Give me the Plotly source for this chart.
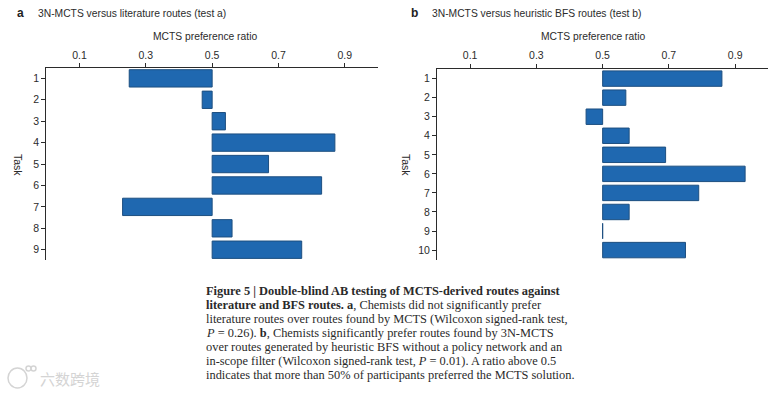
import plotly.graph_objects as go

tasks_a = [1, 2, 3, 4, 5, 6, 7, 8, 9]
ratio_a = [0.25, 0.47, 0.54, 0.87, 0.67, 0.83, 0.23, 0.56, 0.77]
tasks_b = [1, 2, 3, 4, 5, 6, 7, 8, 9, 10]
ratio_b = [0.86, 0.57, 0.45, 0.58, 0.69, 0.93, 0.79, 0.58, 0.50, 0.75]
x_ticks = [0.1, 0.3, 0.5, 0.7, 0.9]
BASE = 0.5

W, H = 780, 393
SANS = "Liberation Sans"
SERIF = "Liberation Serif"
INK = "#2b2b2b"
BAR = "#1f68b0"
EDGE = "#1d4f80"

fig = go.Figure()


def bars(tasks, ratio, xa, ya):
    fig.add_trace(go.Bar(
        y=tasks, x=[r - BASE for r in ratio], base=BASE, orientation="h",
        width=0.81, xaxis=xa, yaxis=ya, showlegend=False,
        marker=dict(color=BAR, line=dict(color=EDGE, width=1)),
    ))


bars(tasks_a, ratio_a, "x", "y")
bars(tasks_b, ratio_b, "x2", "y2")


def xaxis(x0, x1, anchor):
    return dict(domain=[x0 / W, x1 / W], range=[0, 1], side="top", anchor=anchor,
                tickmode="array", tickvals=x_ticks, ticktext=[f"{t:.1f}" for t in x_ticks],
                ticks="outside", ticklen=4, tickwidth=1, tickcolor=INK,
                showline=True, linecolor=INK, linewidth=1, showgrid=False, zeroline=False,
                tickfont=dict(family=SANS, size=10.5, color=INK))


def yaxis(top, bottom, rng, tasks, anchor):
    return dict(domain=[1 - bottom / H, 1 - top / H], range=rng, anchor=anchor,
                tickmode="array", tickvals=tasks, ticktext=[str(t) for t in tasks],
                ticks="outside", ticklen=4, tickwidth=1, tickcolor=INK,
                showline=True, linecolor=INK, linewidth=1, showgrid=False, zeroline=False,
                tickfont=dict(family=SANS, size=10.5, color=INK))


def label(x, y, text, size=10.3, family=SANS, anchor="left", angle=0, color=INK):
    return dict(x=x / W, y=1 - y / H, xref="paper", yref="paper", text=text, showarrow=False,
                xanchor=anchor, yanchor="middle", textangle=angle, align="left",
                font=dict(family=family, size=size, color=color))


caption = [
    ("<b>Figure 5 | Double-blind AB testing of MCTS-derived routes against</b>", 290.5),
    ("<b>literature and BFS routes. a</b>, Chemists did not significantly prefer", 304.5),
    ("literature routes over routes found by MCTS (Wilcoxon signed-rank test,", 318.5),
    ("<i>P</i> = 0.26). <b>b</b>, Chemists significantly prefer routes found by 3N-MCTS", 332.5),
    ("over routes generated by heuristic BFS without a policy network and an", 346.5),
    ("in-scope filter (Wilcoxon signed-rank test, <i>P</i> = 0.01). A ratio above 0.5", 360.5),
    ("indicates that more than 50% of participants preferred the MCTS solution.", 374.5),
]

annotations = [
    label(15, 13, "<b>a</b>", 12, color="#222222"),
    label(36, 13, "3N-MCTS versus literature routes (test a)", 10.3),
    label(205, 36, "MCTS preference ratio", 10.3, anchor="center"),
    label(18, 165, "Task", 10.5, anchor="center", angle=90),
    label(409, 13, "<b>b</b>", 12, color="#222222"),
    label(429.5, 13, "3N-MCTS versus heuristic BFS routes (test b)", 10.3),
    label(593, 36, "MCTS preference ratio", 10.3, anchor="center"),
    label(406, 165, "Task", 10.5, anchor="center", angle=90),
    label(38, 378, "六数跨境", 15, family="Noto Sans CJK SC", color="#d4d4d4"),
]
annotations += [label(204, y, t, 12.4, family=SERIF, color="#2a2a2a") for t, y in caption]

# Faint watermark logo rings, paper coordinates in pixels
logo = [(8, 368, 27, 388), (26, 366, 31, 371), (31, 366, 36, 371)]
shapes = [dict(type="circle", xref="paper", yref="paper",
               x0=a / W, x1=c / W, y0=1 - d / H, y1=1 - b / H,
               line=dict(color="#d4d4d4", width=1.5)) for a, b, c, d in logo]

fig.update_layout(
    width=W, height=H, margin=dict(l=0, r=0, t=0, b=0),
    paper_bgcolor="white", plot_bgcolor="white", showlegend=False,
    xaxis=xaxis(46.3, 378, "y"),
    yaxis=yaxis(68.3, 260, [9.48, 0.53], tasks_a, "x"),
    xaxis2=xaxis(437, 768.3, "y2"),
    yaxis2=yaxis(68.5, 260, [10.52, 0.47], tasks_b, "x2"),
    annotations=annotations, shapes=shapes,
)
fig.write_html("out.html", config={"displayModeBar": False},
               post_script="document.body.style.margin='0';")
